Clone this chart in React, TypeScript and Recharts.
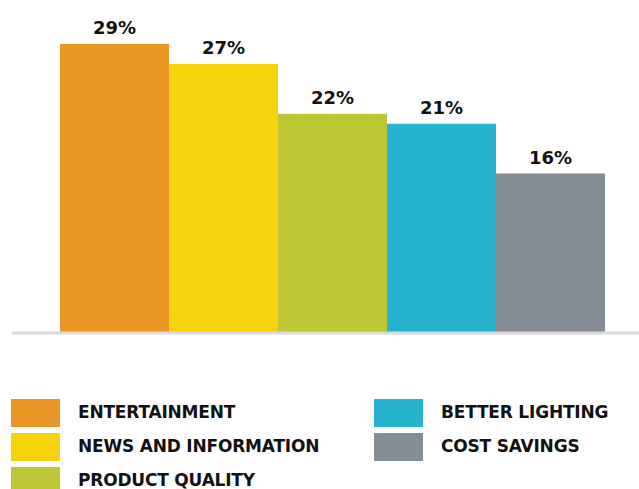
import React from "react";
import { BarChart, Bar, XAxis, YAxis, Cell, LabelList } from "recharts";

const categories = ["ENTERTAINMENT", "NEWS AND INFORMATION", "PRODUCT QUALITY", "BETTER LIGHTING", "COST SAVINGS"];
const values = [29, 27, 22, 21, 16];
const colors = ["#E99625", "#F5D20C", "#BDC634", "#26B3CF", "#858E96"];

const data = categories.map((c, i) => ({ name: c, value: values[i] }));

const FONT = "'DejaVu Sans', sans-serif";

const legendLeft = [0, 1, 2];
const legendRight = [3, 4];

function LegendItem({ idx, x, y }: { idx: number; x: number; y: number }) {
  return (
    <div style={{ position: "absolute", left: x, top: y, height: 28, display: "flex", alignItems: "center" }}>
      <div style={{ width: 49, height: 28, background: colors[idx] }} />
      <div
        style={{
          marginLeft: 18,
          fontFamily: FONT,
          fontWeight: 700,
          fontSize: 17,
          letterSpacing: -0.2,
          color: "#111",
          whiteSpace: "nowrap",
          marginTop: -3,
        }}
      >
        {categories[idx]}
      </div>
    </div>
  );
}

export default function App() {
  return (
    <div style={{ position: "absolute", left: 0, top: 0, width: 639, height: 489, background: "#fff", overflow: "hidden" }}>
      <BarChart
        width={639}
        height={341}
        data={data}
        margin={{ top: 44, right: 0, bottom: 0, left: 12 }}
        barCategoryGap={0}
      >
        <YAxis hide domain={[0, 29]} />
        <XAxis
          dataKey="name"
          tick={false}
          tickLine={false}
          height={8}
          axisLine={{ stroke: "#D9DADC", strokeWidth: 3 }}
          padding={{ left: 48, right: 34 }}
        />
        <Bar dataKey="value" isAnimationActive={false}>
          {data.map((d, i) => (
            <Cell key={d.name} fill={colors[i]} />
          ))}
          <LabelList
            dataKey="value"
            position="top"
            offset={10}
            formatter={(v: any) => `${v}%`}
            style={{ fontFamily: FONT, fontWeight: 700, fontSize: 18, fill: "#111" }}
          />
        </Bar>
      </BarChart>
      {legendLeft.map((idx, r) => (
        <LegendItem key={idx} idx={idx} x={11} y={399 + r * 34} />
      ))}
      {legendRight.map((idx, r) => (
        <LegendItem key={idx} idx={idx} x={374} y={399 + r * 34} />
      ))}
    </div>
  );
}
